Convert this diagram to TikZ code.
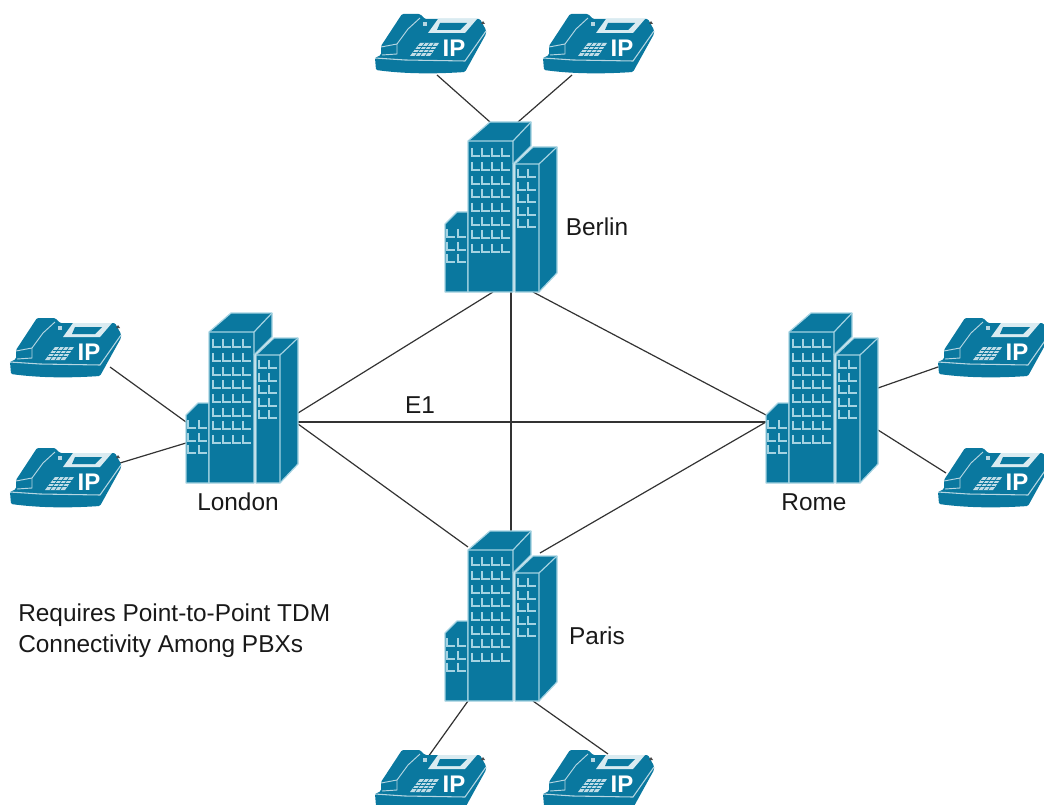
\documentclass[tikz,border=0pt]{standalone}
\usepackage{fontspec}
\setmainfont{Liberation Sans}
\usetikzlibrary{backgrounds}
\definecolor{ciscoblue}{HTML}{0A789F}
\definecolor{ciscolight}{HTML}{A5D3E2}

\tikzset{
	link/.style={draw=black!80, line width=0.9pt},
	label/.style={font=\fontsize{18.3}{23.5}\selectfont, text=black!90, inner sep=0pt},
	face/.style={fill=ciscoblue, draw=ciscolight, line width=0.9pt, line join=round},
	pane/.style={ciscolight, line width=1pt},
	building/.pic={
		% link ends
		\coordinate (-na) at (45,0);
		\coordinate (-nb) at (73,0);
		\coordinate (-top) at (66,5);
		\coordinate (-bot) at (66,170);
		\coordinate (-sa) at (48,170);
		\coordinate (-sb) at (88,170);
		\coordinate (-sc) at (23,170);
		\coordinate (-wa) at (0,102);
		\coordinate (-wb) at (0,109);
		\coordinate (-wc) at (0,130);
		\coordinate (-wd) at (23,16);
		\coordinate (-ea) at (112,100);
		\coordinate (-eb) at (112,109);
		\coordinate (-ec) at (112,111);
		\coordinate (-ed) at (112,75);
		\coordinate (-ee) at (112,117);
		\coordinate (-ef) at (95,22);
		% small block
		\draw[face] (0,102) -- (12,90) -- (23,90) -- (23,170) -- (0,170) -- cycle;
		% main tower
		\draw[face] (23,19) -- (45,0) -- (86,0) -- (86,24) -- (68,42) -- (68,170) -- (23,170) -- cycle;
		\draw[face] (23,19) -- (68,19) -- (86,0) (68,19) -- (68,42);
		% side tower
		\draw[face] (70,42) -- (88,25) -- (112,25) -- (112,151) -- (94,170) -- (70,170) -- cycle;
		\draw[face] (70,42) -- (94,42) -- (112,25) (94,42) -- (94,170);
		% windows
		\foreach \wy in {34,48,62,75,89,103,116,130}
			\foreach \wx in {27,37,47,57}
				\draw[pane] (\wx,\wy-8) -- (\wx,\wy) -- (\wx+8,\wy);
		\foreach \wy in {55,68,80,93,105}
			\foreach \wx in {73,83}
				\draw[pane] (\wx,\wy-8) -- (\wx,\wy) -- (\wx+8,\wy);
		\foreach \wy in {115,128,140}
			\foreach \wx in {2,13}
				\draw[pane] (\wx,\wy-8) -- (\wx,\wy) -- (\wx+8,\wy);
	},
	ipphone/.pic={
		% link ends
		\coordinate (-a) at (62,62);
		\coordinate (-b) at (29,62);
		\coordinate (-c) at (100,50);
		\coordinate (-d) at (110,16);
		\coordinate (-e) at (0,50);
		\coordinate (-f) at (8,26);
		\coordinate (-g) at (53,8);
		\coordinate (-h) at (65,5);
		% body
		\fill[ciscoblue, rounded corners=1pt] (0,45) -- (6,42) -- (6,33) -- (27,1) -- (45,1) -- (50,6) -- (105,6) -- (111,17) -- (111,21) -- (90,59) .. controls (60,61) and (30,61) .. (1,57) -- cycle;
		% front edge
		\draw[white!70!ciscoblue, line width=0.8pt] (0,45) -- (30,47) -- (90,48) -- (111,18);
		% handset
		\draw[white!70!ciscoblue, line width=0.7pt] (6,34) -- (22,31) -- (33,16) -- (45,5) (22,31) -- (22,41) -- (7,42);
		\fill[white!70!ciscoblue] (48,9) -- (52,9) -- (52,13) -- (48,13) -- cycle;
		% screen
		\fill[white!85!ciscoblue] (53,20) -- (63,6) -- (102,6) -- (90,20) -- cycle;
		\fill[ciscoblue] (62,17) -- (65,10) -- (92,10) -- (85,17) -- cycle;
		\fill[black!70] (106,11) -- (108,8) -- (110,11) -- cycle;
		% keypad
		\fill[white!75!ciscoblue] (35,43) -- (45,30) -- (64,30) -- (55,43) -- cycle;
		\foreach \kx in {1,2,3}
			\draw[ciscoblue, line width=0.5pt] (35+\kx*5,43) -- (45+\kx*4.75,30);
		\foreach \ky in {1,2,3}
			\draw[ciscoblue, line width=0.5pt] (35+\ky*2.5,43-\ky*3.25) -- (55+\ky*2.25,43-\ky*3.25);
		\node[font=\fontsize{18}{18}\selectfont\bfseries, text=white, inner sep=0pt] at (79,35) {IP};
	}
}

\begin{document}
\begin{tikzpicture}[x=0.75pt, y=-0.75pt]

	\clip (0,0) rectangle (1044,805);

	% sites
	\pic (berlin) at (445,122) {building};
	\pic (london) at (186,313) {building};
	\pic (rome) at (766,313) {building};
	\pic (paris) at (445,531) {building};

	% phones
	\pic (pba) at (375,13) {ipphone};
	\pic (pbb) at (543,13) {ipphone};
	\pic (pla) at (10,317) {ipphone};
	\pic (plb) at (10,447) {ipphone};
	\pic (pra) at (938,317) {ipphone};
	\pic (prb) at (938,447) {ipphone};
	\pic (ppa) at (375,749) {ipphone};
	\pic (ppb) at (543,749) {ipphone};

	\begin{scope}[on background layer]
		% trunks
		\draw[link] (london-ea) -- (berlin-sa);
		\draw[link] (london-ec) -- (paris-wd);
		\draw[link] (london-eb) -- (rome-wb);
		\draw[link] (berlin-sb) -- (rome-wa);
		\draw[link] (berlin-bot) -- (paris-top);
		\draw[link] (paris-ef) -- (rome-wb);
		% phone lines
		\draw[link] (pba-a) -- (berlin-na);
		\draw[link] (pbb-b) -- (berlin-nb);
		\draw[link] (pla-c) -- (london-wb);
		\draw[link] (plb-d) -- (london-wc);
		\draw[link] (pra-e) -- (rome-ed);
		\draw[link] (prb-f) -- (rome-ee);
		\draw[link] (ppa-g) -- (paris-sc);
		\draw[link] (ppb-h) -- (paris-sb);
	\end{scope}

	\node[label] (lberlin) at (597,227) {Berlin};
	\node[label] (llondon) at (238,502) {London};
	\node[label] (lrome) at (814,502) {Rome};
	\node[label] (lparis) at (597,636) {Paris};
	\node[label] (le1) at (420,405) {E1};
	\node[label, anchor=west, align=left] (lnote) at (18,631) {Requires Point-to-Point TDM\\Connectivity Among PBXs};

\end{tikzpicture}
\end{document}
